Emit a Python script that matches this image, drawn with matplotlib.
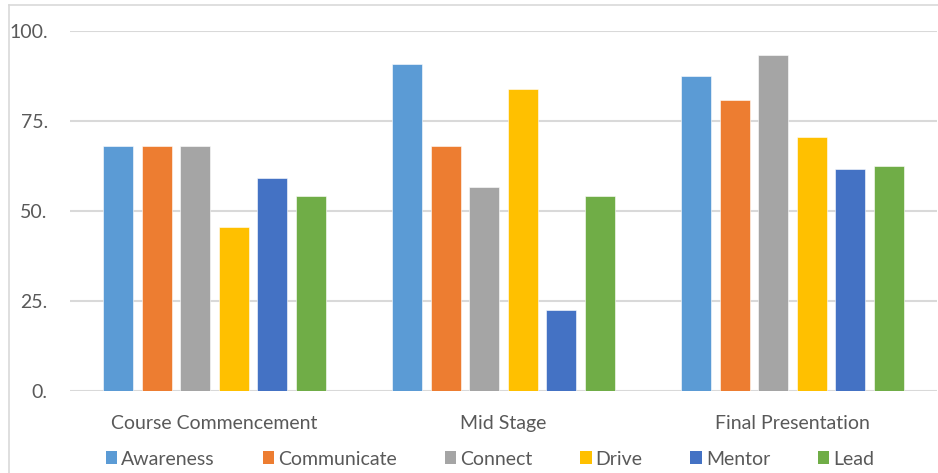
#!/usr/bin/env python3
# Grouped bar chart: skill scores across course stages

import numpy as np
import matplotlib
matplotlib.use("Agg")
import matplotlib.pyplot as plt
from matplotlib.patches import Patch
from matplotlib.lines import Line2D

# ------------------------------------------------------------
# Data
# ------------------------------------------------------------
stages = ["Course Commencement", "Mid Stage", "Final Presentation"]
skills = ["Awareness", "Communicate", "Connect", "Drive", "Mentor", "Lead"]

awareness = [68.0, 90.9, 87.4]
communicate = [68.0, 68.0, 80.7]
connect = [68.0, 56.7, 93.2]
drive = [45.5, 84.0, 70.6]
mentor = [59.2, 22.5, 61.6]
lead = [54.3, 54.2, 62.4]

yticks = [0, 25, 50, 75, 100]
ytick_labels = ["0.", "25.", "50.", "75.", "100."]

colors = ["#5B9BD5", "#ED7D31", "#A5A5A5", "#FFC000", "#4472C4", "#70AD47"]

W, H = 938, 473


def main() -> int:
    plt.rcParams["font.family"] = ["Lato", "DejaVu Sans"]
    text_color = "#595959"
    fs = 14

    fig = plt.figure(figsize=(W / 100, H / 100), dpi=100)
    ax = fig.add_axes([70 / W, (H - 391) / H, (937 - 70) / W, 360 / H])

    series = [awareness, communicate, connect, drive, mentor, lead]
    x = np.arange(len(stages))
    slot = 38.5 / 289
    bar_w = 30 / 289
    for i, (vals, c) in enumerate(zip(series, colors)):
        ax.bar(x + (i - 2.5) * slot, vals, width=bar_w, color=c,
               edgecolor="white", linewidth=0.4, zorder=3)

    ax.set_xlim(-0.5, 2.5)
    ax.set_ylim(0, 100)
    ax.set_yticks(yticks)
    ax.set_yticklabels(ytick_labels)
    ax.set_xticks(x)
    ax.set_xticklabels(stages)
    ax.tick_params(axis="both", length=0, labelsize=fs, labelcolor=text_color)
    ax.tick_params(axis="y", pad=16)
    ax.tick_params(axis="x", pad=17)

    ax.grid(axis="y", color="#d9d9d9", linewidth=1.5, zorder=0)
    for s in ax.spines.values():
        s.set_visible(False)

    # legend below the category labels
    handles = [Patch(facecolor=c, edgecolor="none") for c in colors]
    fig.legend(handles, skills, loc="center", ncol=6,
               bbox_to_anchor=(490 / W, (H - 459) / H), frameon=False,
               fontsize=fs, labelcolor=text_color,
               handlelength=0.6, handleheight=0.6, handletextpad=0.2,
               columnspacing=2.45, borderpad=0)

    # light frame around the chart (only top and left visible in the crop)
    frame_c = "#d9d9d9"
    fig.add_artist(Line2D([8.5 / W, 1.0], [1 - 5.5 / H, 1 - 5.5 / H],
                          color=frame_c, linewidth=1.2))
    fig.add_artist(Line2D([8.5 / W, 8.5 / W], [0.0, 1 - 5.5 / H],
                          color=frame_c, linewidth=1.2))

    fig.savefig("out.png", dpi=100)
    plt.close(fig)
    return 0


if __name__ == "__main__":
    raise SystemExit(main())
